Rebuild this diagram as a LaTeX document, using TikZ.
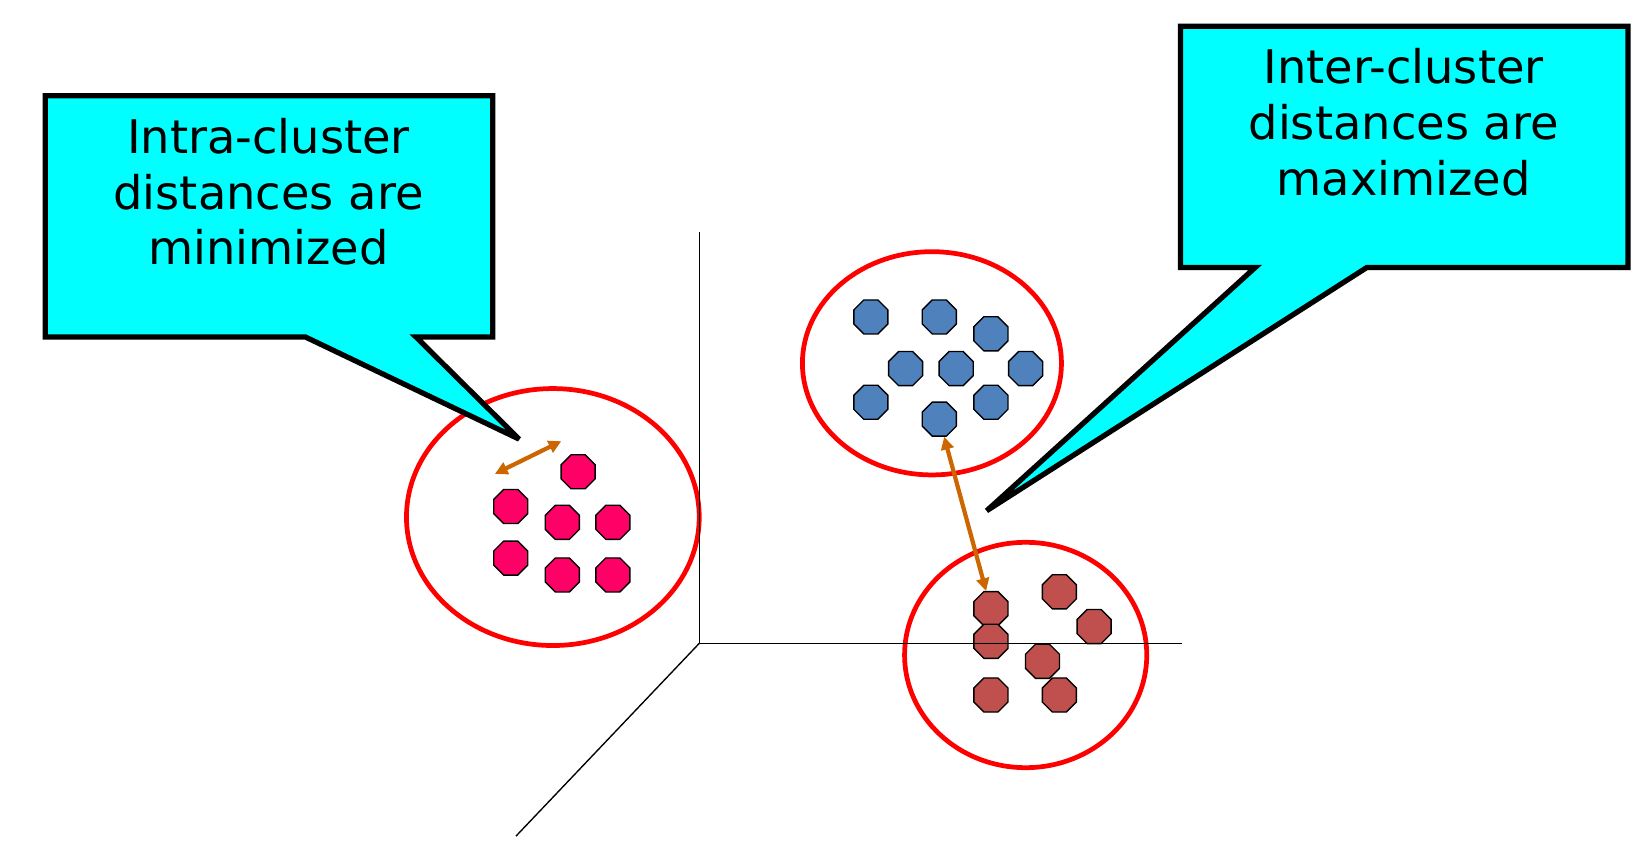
\documentclass[tikz,border=0pt]{standalone}
\usepackage{fontspec}
\setmainfont{DejaVu Sans}
\usetikzlibrary{shapes.geometric}
\usetikzlibrary{arrows.meta}

\definecolor{boxcyan}{RGB}{0,255,255}
\definecolor{pinkpt}{RGB}{255,0,102}
\definecolor{bluept}{RGB}{79,129,189}
\definecolor{redpt}{RGB}{192,80,77}
\definecolor{distorange}{RGB}{204,102,0}

\tikzset{
 pt/.style={regular polygon, regular polygon sides=8, draw=black, line width=1.3pt, minimum size=35pt, inner sep=0pt},
 ring/.style={draw=red, line width=4.5pt},
 dist/.style={distorange, line width=4pt, {Triangle[length=12pt,width=12pt]}-{Triangle[length=12pt,width=12pt]}},
 callout/.style={draw=black, fill=boxcyan, line width=5pt, miter limit=3},
 bigtext/.style={align=center, inner sep=0, anchor=north, font=\fontsize{44}{53}\selectfont}
}

\begin{document}
\begin{tikzpicture}[x=1pt,y=-1pt]
\useasboundingbox (0,0) rectangle (1565,811);
% clusters
\draw[ring] (525,491) ellipse (139 and 122);
\draw[ring] (885,345) ellipse (123 and 106);
\draw[ring] (974,622) ellipse (115 and 107);
\foreach \x/\y [count=\i] in {549/448, 485/481, 534/496, 582/496, 485/530, 534/546, 582/546}
 \node[pt, fill=pinkpt] (p\i) at (\x,\y) {};
\foreach \x/\y [count=\i] in {827/301, 892/301, 941/317, 860/350, 908/350, 974/350, 827/382, 941/382, 892/398}
 \node[pt, fill=bluept] (b\i) at (\x,\y) {};
\foreach \x/\y [count=\i] in {941/578, 1006/562, 1039/595, 941/609, 990/628, 941/660, 1006/660}
 \node[pt, fill=redpt] (r\i) at (\x,\y) {};
% axes
\coordinate (origin) at (664,611);
\coordinate (ytop) at (664,220);
\coordinate (xend) at (1122,611);
\coordinate (zend) at (490,794);
\draw[black, line width=1.3pt] (ytop) -- (origin) -- (xend);
\draw[black, line width=1.3pt] (origin) -- (zend);
% distances
\coordinate (intraA) at (470,450);
\coordinate (intraB) at (533,419);
\draw[dist] (intraA) -- (intraB);
\draw[dist] (b9) -- (r1);
% callouts
\draw[callout] (43,91) -- (468,91) -- (468,320) -- (395,320) -- (493,417) -- (290,320) -- (43,320) -- cycle;
\node[bigtext] (intratext) at (255,112) {Intra-cluster\\distances are\\minimized};
\draw[callout] (1121,25) -- (1546,25) -- (1546,254) -- (1298,254) -- (937,485) -- (1192,254) -- (1121,254) -- cycle;
\node[bigtext] (intertext) at (1333,46) {Inter-cluster\\distances are\\maximized};
\end{tikzpicture}
\end{document}
